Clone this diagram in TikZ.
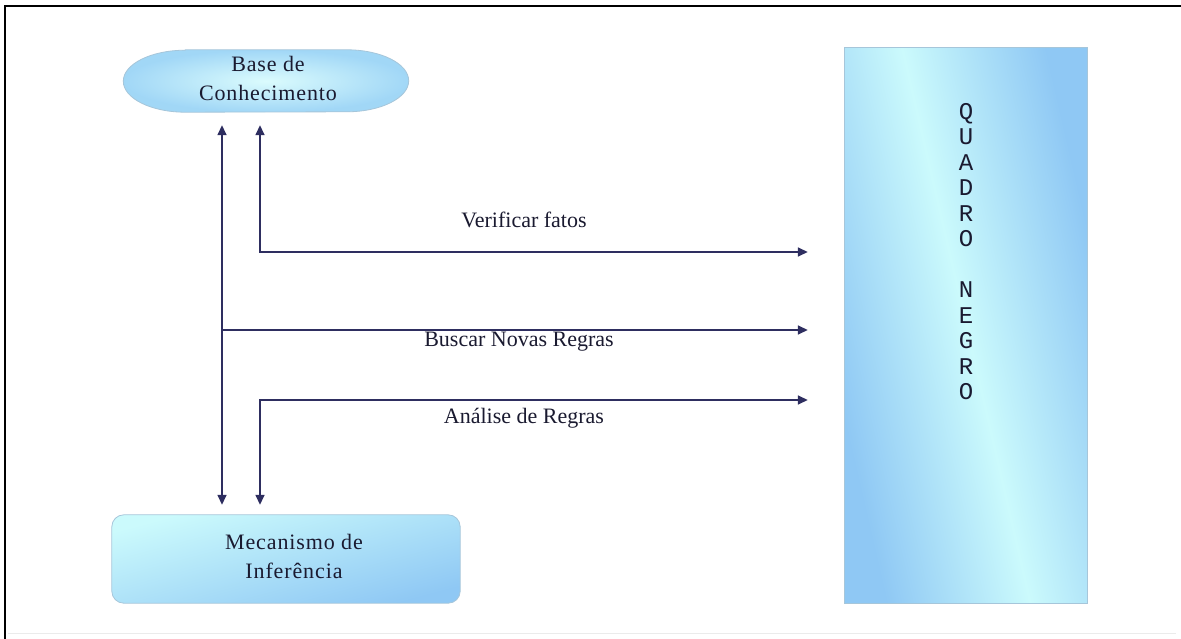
\documentclass[tikz,border=0pt]{standalone}
\usepackage{fontspec}
\setmainfont{Liberation Serif}
\newfontfamily\boardfont{Liberation Mono}
\newfontfamily\spacedfont[LetterSpace=4]{Liberation Serif}
\usetikzlibrary{arrows.meta,backgrounds,calc}
\definecolor{linkcol}{HTML}{2E2E60}
\definecolor{txtcol}{HTML}{1A1A30}
\definecolor{lightc}{HTML}{CBFAFC}
\definecolor{bluec}{HTML}{8FC8F4}
\definecolor{edgec}{HTML}{A6C6DA}
\tikzset{
  link/.style={draw=linkcol, line width=1.5pt, arrows={-{Triangle[length=10pt,width=9pt]}}},
  duallink/.style={link, arrows={{Triangle[length=10pt,width=9pt]}-{Triangle[length=10pt,width=9pt]}}},
  lbl/.style={text=txtcol, font=\fontsize{22}{26}\selectfont, inner sep=0pt},
  boxtext/.style={text=txtcol, font=\spacedfont\fontsize{22}{29}\selectfont, align=center, inner sep=0pt},
}
\begin{document}
\begin{tikzpicture}[x=1pt,y=-1pt]
\useasboundingbox (0,0) rectangle (1181,639);

% nodes (shapes)
\node[minimum width=285pt, minimum height=62pt, inner sep=0pt] (base) at (266,81) {};
\node[minimum width=348pt, minimum height=88pt, inner sep=0pt] (mech) at (286,559) {};
\node[minimum width=242pt, minimum height=555pt, inner sep=0pt] (board) at (966,325.5) {};

\begin{pgfonlayer}{background}
\fill[white] (0,0) rectangle (1181,639);
\shade[inner color=lightc!70!white, outer color=bluec!70!lightc, draw=edgec, line width=0.8pt]
  ($(base.north west)+(62,0)$) -- ($(base.north east)+(-62,0)$)
  arc[start angle=-90, end angle=90, x radius=62, y radius=31]
  -- ($(base.south west)+(62,0)$)
  arc[start angle=90, end angle=270, x radius=62, y radius=31] -- cycle;
\shade[top color=lightc, bottom color=bluec, shading angle=15, draw=edgec, line width=0.8pt, rounded corners=12pt]
  (mech.north west) rectangle (mech.south east);
\begin{scope}
  \clip (board.north west) rectangle (board.south east);
  \fill[bluec] (board.north west) rectangle (board.south east);
  \begin{scope}[transform canvas={shift={(board.center)}, rotate=13}]
    \shade[left color=bluec, right color=bluec, middle color=lightc] (-140,-420) rectangle (140,420);
  \end{scope}
\end{scope}
\draw[edgec, line width=0.8pt] (board.north west) rectangle (board.south east);
\end{pgfonlayer}

% frame
\draw[black, line width=2pt] (5,639) -- (5,6) -- (1181,6);
\draw[black!8, line width=1pt] (8,633) -- (1176,633);

% texts
\node[boxtext] at (268,78) {Base de\\Conhecimento};
\node[boxtext] at (294,556) {Mecanismo de\\Inferência};
\node[text=txtcol, font=\boardfont\fontsize{24}{25.5}\selectfont, align=center, inner sep=0pt, anchor=north] at (966,103)
  {Q\\U\\A\\D\\R\\O\\\strut\\N\\E\\G\\R\\O};

% connector helper coordinates
\coordinate (v1) at (222,0);
\coordinate (v2) at (260,0);
\coordinate (h1) at (0,252);
\coordinate (h2) at (0,330);
\coordinate (h3) at (0,400);

% connectors
\draw[duallink, shorten <=13pt, shorten >=10pt] (base.south -| v1) -- (mech.north -| v1);
\draw[duallink, shorten <=13pt, shorten >=37pt] (base.south -| v2) |- (board.west |- h1);
\draw[link, shorten >=37pt] (v1 |- h2) -- (board.west |- h2);
\draw[duallink, shorten <=37pt, shorten >=10pt] (board.west |- h3) -| (mech.north -| v2);

% labels
\node[lbl] (l1) at (524,220) {Verificar fatos};
\node[lbl] (l2) at (519,342) {Buscar Novas Regras};
\node[lbl] (l3) at (524,418) {Análise de Regras};
\end{tikzpicture}
\end{document}
